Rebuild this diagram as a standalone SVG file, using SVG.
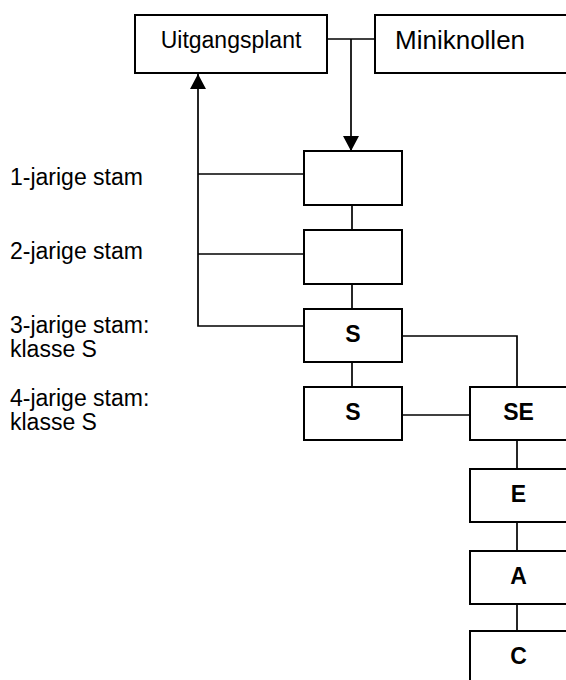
<svg xmlns="http://www.w3.org/2000/svg" width="566" height="680" viewBox="0 0 566 680">
<style>
.box{fill:#fff;stroke:#000;stroke-width:2}
.ln{fill:none;stroke:#000;stroke-width:1.7}
.t{font-family:"Liberation Sans",Arial,sans-serif;font-size:23px;fill:#000}
.b{font-family:"Liberation Sans",Arial,sans-serif;font-size:23px;font-weight:bold;fill:#000;text-anchor:middle}
</style>
<defs>
<marker id="arr" markerUnits="userSpaceOnUse" markerWidth="15" markerHeight="16" viewBox="0 0 15 16" refX="15" refY="8" orient="auto">
<path d="M0,0 L15,8 L0,16 z" fill="#000"/>
</marker>
</defs>
<rect width="566" height="680" fill="#fff"/>
<g id="connectors">
<line class="ln" x1="327" y1="39" x2="375" y2="39"/>
<line class="ln" x1="351" y1="39" x2="351" y2="151" marker-end="url(#arr)"/>
<line class="ln" x1="352" y1="205" x2="352" y2="230"/>
<line class="ln" x1="352" y1="284" x2="352" y2="309"/>
<line class="ln" x1="352" y1="362" x2="352" y2="387"/>
<line class="ln" x1="304" y1="174" x2="198" y2="174"/>
<line class="ln" x1="304" y1="254" x2="198" y2="254"/>
<path class="ln" d="M304,326 H198 V74" marker-end="url(#arr)"/>
<path class="ln" d="M402,336 H517 V387"/>
<line class="ln" x1="402" y1="415" x2="470" y2="415"/>
<line class="ln" x1="517" y1="440" x2="517" y2="469"/>
<line class="ln" x1="517" y1="522" x2="517" y2="551"/>
<line class="ln" x1="517" y1="604" x2="517" y2="631"/>
</g>
<g id="uitgangsplant"><rect class="box" x="135" y="15" width="192" height="58"/><text class="t" x="231" y="48" text-anchor="middle">Uitgangsplant</text></g>
<g id="miniknollen"><rect class="box" x="375" y="15" width="200" height="58"/><text class="t" x="395" y="48.5" style="font-size:26px">Miniknollen</text></g>
<g id="stam1"><rect class="box" x="304" y="151" width="98" height="54"/></g>
<g id="stam2"><rect class="box" x="304" y="230" width="98" height="54"/></g>
<g id="stam3"><rect class="box" x="304" y="309" width="98" height="53"/><text class="b" x="353" y="342">S</text></g>
<g id="stam4"><rect class="box" x="304" y="387" width="98" height="53"/><text class="b" x="353" y="420">S</text></g>
<g id="se"><rect class="box" x="470" y="387" width="110" height="53"/><text class="b" x="518.5" y="420">SE</text></g>
<g id="e"><rect class="box" x="470" y="469" width="110" height="53"/><text class="b" x="518.5" y="502">E</text></g>
<g id="a"><rect class="box" x="470" y="551" width="110" height="53"/><text class="b" x="518.5" y="584">A</text></g>
<g id="c"><rect class="box" x="470" y="631" width="110" height="60"/><text class="b" x="518.5" y="664">C</text></g>
<g id="labels">
<text class="t" x="10" y="185">1-jarige stam</text>
<text class="t" x="10" y="259">2-jarige stam</text>
<text class="t" x="10" y="332.5">3-jarige stam:</text>
<text class="t" x="10" y="356.5">klasse S</text>
<text class="t" x="10" y="406">4-jarige stam:</text>
<text class="t" x="10" y="430">klasse S</text>
</g>
</svg>
